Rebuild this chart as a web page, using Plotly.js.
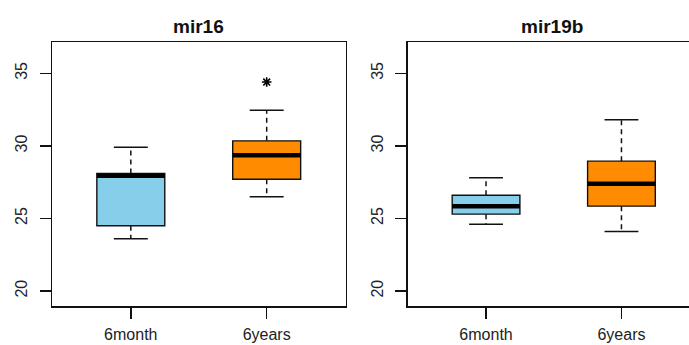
<!DOCTYPE html>
<html>
<head>
<meta charset="utf-8">
<script src="https://cdn.plot.ly/plotly-3.0.1.min.js"></script>
<style>
html,body{margin:0;padding:0;overflow:hidden;background:#fff;width:689px;height:345px;}
#chart{width:704px;height:345px;}
</style>
</head>
<body>
<div id="chart"></div>
<script>
// ---- data ----
var categories = ["6month", "6years"];
var panelTitles = ["mir16", "mir19b"];
var fillColors = ["#87CEEB", "#FF8C00"];
var yTicks = [20, 25, 30, 35];

var mir16_min    = [23.6, 26.5];
var mir16_q1     = [24.5, 27.7];
var mir16_median = [27.95, 29.35];
var mir16_q3     = [28.1, 30.35];
var mir16_max    = [29.9, 32.45];
var mir16_outlierGroup = ["6years"];
var mir16_outlierValue = [34.4];

var mir19b_min    = [24.6, 24.1];
var mir19b_q1     = [25.3, 25.85];
var mir19b_median = [25.85, 27.4];
var mir19b_q3     = [26.6, 28.95];
var mir19b_max    = [27.8, 31.8];
var mir19b_outlierGroup = [];
var mir19b_outlierValue = [];

// ---- build ----
var W = 704, H = 345;
var panels = [
  {min: mir16_min, q1: mir16_q1, med: mir16_median, q3: mir16_q3, max: mir16_max,
   og: mir16_outlierGroup, ov: mir16_outlierValue, xa: "x", ya: "y"},
  {min: mir19b_min, q1: mir19b_q1, med: mir19b_median, q3: mir19b_q3, max: mir19b_max,
   og: mir19b_outlierGroup, ov: mir19b_outlierValue, xa: "x2", ya: "y2"}
];
var boxW = 0.5, capW = 0.25;
var dark = "#111";
var traces = [];
panels.forEach(function (p) {
  categories.forEach(function (c, i) {
    var pos = i + 1;
    traces.push({
      type: "box", xaxis: p.xa, yaxis: p.ya,
      x: [pos], q1: [p.q1[i]], median: [p.med[i]], q3: [p.q3[i]],
      lowerfence: [p.q1[i]], upperfence: [p.q3[i]],
      width: boxW, whiskerwidth: 0, boxpoints: false,
      fillcolor: fillColors[i], line: {color: dark, width: 1.4},
      hoverinfo: "skip", showlegend: false
    });
    // dashed whiskers
    traces.push({
      type: "scatter", mode: "lines", xaxis: p.xa, yaxis: p.ya,
      x: [pos, pos, null, pos, pos],
      y: [p.q1[i], p.min[i], null, p.q3[i], p.max[i]],
      line: {color: dark, width: 1.5, dash: "5px,4px"},
      hoverinfo: "skip", showlegend: false
    });
    // staples
    traces.push({
      type: "scatter", mode: "lines", xaxis: p.xa, yaxis: p.ya,
      x: [pos - capW / 2, pos + capW / 2, null, pos - capW / 2, pos + capW / 2],
      y: [p.min[i], p.min[i], null, p.max[i], p.max[i]],
      line: {color: dark, width: 1.5},
      hoverinfo: "skip", showlegend: false
    });
    // thick median
    traces.push({
      type: "scatter", mode: "lines", xaxis: p.xa, yaxis: p.ya,
      x: [pos - boxW / 2, pos + boxW / 2],
      y: [p.med[i], p.med[i]],
      line: {color: "#000", width: 4.5},
      hoverinfo: "skip", showlegend: false
    });
  });
  if (p.ov.length) {
    traces.push({
      type: "scatter", mode: "markers", xaxis: p.xa, yaxis: p.ya,
      x: p.og.map(function (g) { return categories.indexOf(g) + 1; }),
      y: p.ov,
      marker: {symbol: "asterisk-open", size: 8, color: "#000", line: {color: "#000", width: 1.6}},
      hoverinfo: "skip", showlegend: false
    });
  }
});

var font = "Liberation Sans, Arial, Helvetica, sans-serif";
function xaxis(dom) {
  return {
    domain: dom, range: [0.42, 2.58], tickmode: "array", tickvals: [1, 2], ticktext: categories,
    ticks: "outside", ticklen: 11, tickwidth: 1.4, tickcolor: dark,
    showline: true, mirror: true, linecolor: dark, linewidth: 1.5,
    showgrid: false, zeroline: false, fixedrange: true, ticklabelstandoff: 2,
    tickfont: {family: font, size: 16, color: "#222"}
  };
}
function yaxis(anchor) {
  return {
    domain: [1 - 306 / H, 1 - 42 / H], range: [18.97, 37.16], anchor: anchor,
    tickmode: "array", tickvals: yTicks, tickangle: -90,
    ticks: "outside", ticklen: 11, tickwidth: 1.4, tickcolor: dark,
    showline: true, mirror: true, linecolor: dark, linewidth: 1.5,
    showgrid: false, zeroline: false, fixedrange: true, ticklabelstandoff: 6,
    tickfont: {family: font, size: 16, color: "#222"}
  };
}
var x1 = xaxis([52 / W, 345.5 / W]); x1.anchor = "y";
var x2 = xaxis([407.5 / W, 700 / W]); x2.anchor = "y2";
var layout = {
  width: W, height: H,
  margin: {l: 0, r: 0, t: 0, b: 0},
  paper_bgcolor: "#fff", plot_bgcolor: "#fff",
  showlegend: false,
  xaxis: x1, yaxis: yaxis("x"),
  xaxis2: x2, yaxis2: yaxis("x2"),
  annotations: [
    {text: "<b>" + panelTitles[0] + "</b>", xref: "paper", yref: "paper",
     x: 198.5 / W, y: 1 - 26 / H, xanchor: "center", yanchor: "middle", showarrow: false,
     font: {family: font, size: 19, color: "#111"}},
    {text: "<b>" + panelTitles[1] + "</b>", xref: "paper", yref: "paper",
     x: 552 / W, y: 1 - 26 / H, xanchor: "center", yanchor: "middle", showarrow: false,
     font: {family: font, size: 19, color: "#111"}}
  ]
};
Plotly.newPlot("chart", traces, layout, {staticPlot: true, displayModeBar: false});
</script>
</body>
</html>
